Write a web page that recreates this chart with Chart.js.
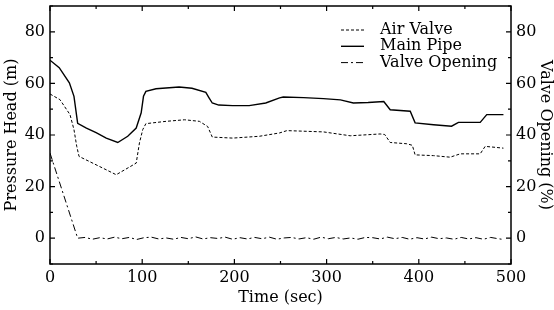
<!DOCTYPE html>
<html>
<head>
<meta charset="utf-8">
<script src="https://cdn.jsdelivr.net/npm/chart.js@4"></script>
<style>
  html, body { margin: 0; padding: 0; background: #fff; }
  #wrap { width: 554px; height: 310px; }
</style>
</head>
<body>
<div id="wrap"><canvas id="chart"></canvas></div>
<script>
// values
const mainTime = [0, 10, 21, 26, 30, 39.5, 50, 61, 73.5, 84.3, 93.5, 98.9, 101.4, 104, 115, 140, 154, 169, 172.5, 176, 183, 198, 216, 234, 249, 253, 275, 296.6, 315, 329, 345, 362, 369, 390.7, 396, 416, 435.5, 443, 466.6, 473.7, 491.8];
const mainPipe = [69, 66.1, 60.2, 55, 44.5, 42.7, 40.9, 38.8, 37.1, 39.5, 42.7, 48.6, 55, 56.9, 57.9, 58.6, 58.1, 56.5, 54.4, 52.4, 51.6, 51.4, 51.4, 52.4, 54.4, 54.7, 54.5, 54.1, 53.6, 52.4, 52.6, 53.0, 49.8, 49.2, 44.7, 44.0, 43.4, 44.9, 44.9, 47.9, 47.9];

const airTime = [0, 10.8, 21.7, 26, 29, 31.5, 53.7, 71.8, 93.5, 97, 100.6, 104, 126, 146, 162, 171, 176, 198, 227, 249, 257, 296.6, 325.6, 358, 363, 369, 387, 393, 396, 416, 434, 445, 466.6, 472, 491.8];
const airValve = [55.9, 53.7, 47.9, 42.1, 35.6, 31.7, 27.8, 24.6, 29.1, 36.9, 42.1, 44.4, 45.3, 45.9, 45.3, 43.3, 39.2, 38.8, 39.5, 40.8, 41.7, 41.2, 39.7, 40.4, 40.2, 37.1, 36.6, 36.0, 32.3, 32.0, 31.4, 32.7, 32.7, 35.6, 34.9];

const valveTime = [0, 30, 38, 46, 54, 62, 70, 78, 86, 94, 102, 110, 118, 126, 134, 142, 150, 158, 166, 174, 182, 190, 198, 206, 214, 222, 230, 238, 246, 254, 262, 270, 278, 286, 294, 302, 310, 318, 326, 334, 342, 350, 358, 366, 374, 382, 390, 398, 406, 414, 422, 430, 438, 446, 454, 462, 470, 478, 486, 492];
const valveOpening = [33, 0, 0.3, -0.4, 0.2, -0.3, 0.4, -0.2, 0.3, -0.5, 0.2, 0.4, -0.3, 0.1, -0.4, 0.3, -0.2, 0.5, -0.3, 0.2, -0.1, 0.4, -0.4, 0.2, -0.3, 0.3, -0.2, 0.4, -0.4, 0.1, 0.3, -0.3, 0.2, -0.4, 0.4, -0.2, 0.3, -0.3, 0.1, -0.4, 0.3, 0.2, -0.3, 0.4, -0.2, 0.3, -0.4, 0.2, -0.3, 0.4, -0.2, 0.1, -0.4, 0.3, -0.3, 0.2, -0.4, 0.3, -0.2, -0.5];

const xTicks = [0, 100, 200, 300, 400, 500];
const yTicks = [0, 20, 40, 60, 80];

const FONT = "'DejaVu Serif', 'Liberation Serif', serif";
const FSIZE = 16;

function toPoints(xs, ys) {
    return xs.map((x, i) => ({x: x, y: ys[i]}));
}

const series = [
    {label: 'Air Valve', data: toPoints(airTime, airValve), borderDash: [3, 2], borderWidth: 1, yAxisID: 'y'},
    {label: 'Main Pipe', data: toPoints(mainTime, mainPipe), borderDash: [], borderWidth: 1.4, yAxisID: 'y'},
    {label: 'Valve Opening', data: toPoints(valveTime, valveOpening), borderDash: [7, 3, 2, 3], borderWidth: 1, yAxisID: 'y2'}
];

// frame, inward ticks and the legend box
const framePlugin = {
    id: 'frame',
    afterDatasetsDraw(chart) {
        const ctx = chart.ctx;
        const area = chart.chartArea;
        const x = chart.scales.x, y = chart.scales.y, y2 = chart.scales.y2;
        ctx.save();
        ctx.strokeStyle = '#000';
        ctx.lineWidth = 1.5;
        ctx.setLineDash([]);
        ctx.strokeRect(area.left, area.top, area.right - area.left, area.bottom - area.top);

        ctx.lineWidth = 1.2;
        ctx.beginPath();
        x.ticks.forEach(t => {
            const px = x.getPixelForValue(t.value);
            const len = xTicks.includes(t.value) ? 5 : 3;
            ctx.moveTo(px, area.bottom);
            ctx.lineTo(px, area.bottom - len);
            ctx.moveTo(px, area.top);
            ctx.lineTo(px, area.top + len);
        });
        y.ticks.forEach(t => {
            const py = y.getPixelForValue(t.value);
            const len = yTicks.includes(t.value) ? 5 : 3;
            ctx.moveTo(area.left, py);
            ctx.lineTo(area.left + len, py);
        });
        y2.ticks.forEach(t => {
            const py = y2.getPixelForValue(t.value);
            const len = yTicks.includes(t.value) ? 5 : 3;
            ctx.moveTo(area.right, py);
            ctx.lineTo(area.right - len, py);
        });
        ctx.stroke();

        // legend
        ctx.font = FSIZE + 'px ' + FONT;
        ctx.fillStyle = '#000';
        ctx.textBaseline = 'middle';
        ctx.textAlign = 'left';
        const textX = area.right - 131;
        const lineX0 = area.right - 170;
        const lineX1 = area.right - 147;
        chart.data.datasets.forEach((ds, i) => {
            const ly = area.top + 24 + i * 16.3;
            ctx.beginPath();
            ctx.setLineDash(ds.borderDash);
            ctx.lineWidth = ds.borderWidth;
            ctx.moveTo(lineX0, ly);
            ctx.lineTo(lineX1, ly);
            ctx.stroke();
            ctx.setLineDash([]);
            ctx.fillText(ds.label, textX, ly);
        });
        ctx.restore();
    }
};

function noPad(s) {
    s.paddingTop = 0;
    s.paddingBottom = 0;
    s.paddingLeft = 0;
    s.paddingRight = 0;
}

new Chart(document.getElementById('chart'), {
    type: 'line',
    data: {
        datasets: series.map(s => ({
            label: s.label,
            data: s.data,
            yAxisID: s.yAxisID,
            borderColor: '#000',
            borderWidth: s.borderWidth,
            borderDash: s.borderDash,
            pointRadius: 0,
            tension: 0,
            fill: false
        }))
    },
    options: {
        responsive: true,
        maintainAspectRatio: false,
        animation: false,
        layout: {padding: {top: 6, left: 0, right: 0, bottom: 0}},
        plugins: {legend: {display: false}, tooltip: {enabled: false}},
        scales: {
            x: {
                type: 'linear',
                min: 0, max: 500,
                grid: {display: false, drawTicks: false},
                border: {display: false},
                ticks: {
                    stepSize: 50, autoSkip: false, maxRotation: 0, padding: 4,
                    color: '#000', font: {family: FONT, size: FSIZE},
                    callback: v => xTicks.includes(v) ? String(v) : ''
                },
                title: {display: true, text: 'Time (sec)', color: '#000', font: {family: FONT, size: FSIZE}, padding: {top: 0, bottom: 3}},
                afterFit: s => { s.height = 46; noPad(s); }
            },
            y: {
                position: 'left',
                min: -10, max: 90,
                grid: {display: false, drawTicks: false},
                border: {display: false},
                ticks: {
                    stepSize: 10, autoSkip: false, padding: 5,
                    color: '#000', font: {family: FONT, size: FSIZE},
                    callback: v => yTicks.includes(v) ? String(v) : ''
                },
                title: {display: true, text: 'Pressure Head (m)', color: '#000', font: {family: FONT, size: FSIZE}, padding: {top: 2, bottom: 0}},
                afterFit: s => { s.width = 50; noPad(s); }
            },
            y2: {
                position: 'right',
                min: -10, max: 90,
                grid: {display: false, drawTicks: false},
                border: {display: false},
                ticks: {
                    stepSize: 10, autoSkip: false, padding: 5,
                    color: '#000', font: {family: FONT, size: FSIZE},
                    callback: v => yTicks.includes(v) ? String(v) : ''
                },
                title: {display: true, text: 'Valve Opening (%)', color: '#000', font: {family: FONT, size: FSIZE}, padding: {top: -1, bottom: 0}},
                afterFit: s => { s.width = 43; noPad(s); }
            }
        }
    },
    plugins: [framePlugin]
});
</script>
</body>
</html>
